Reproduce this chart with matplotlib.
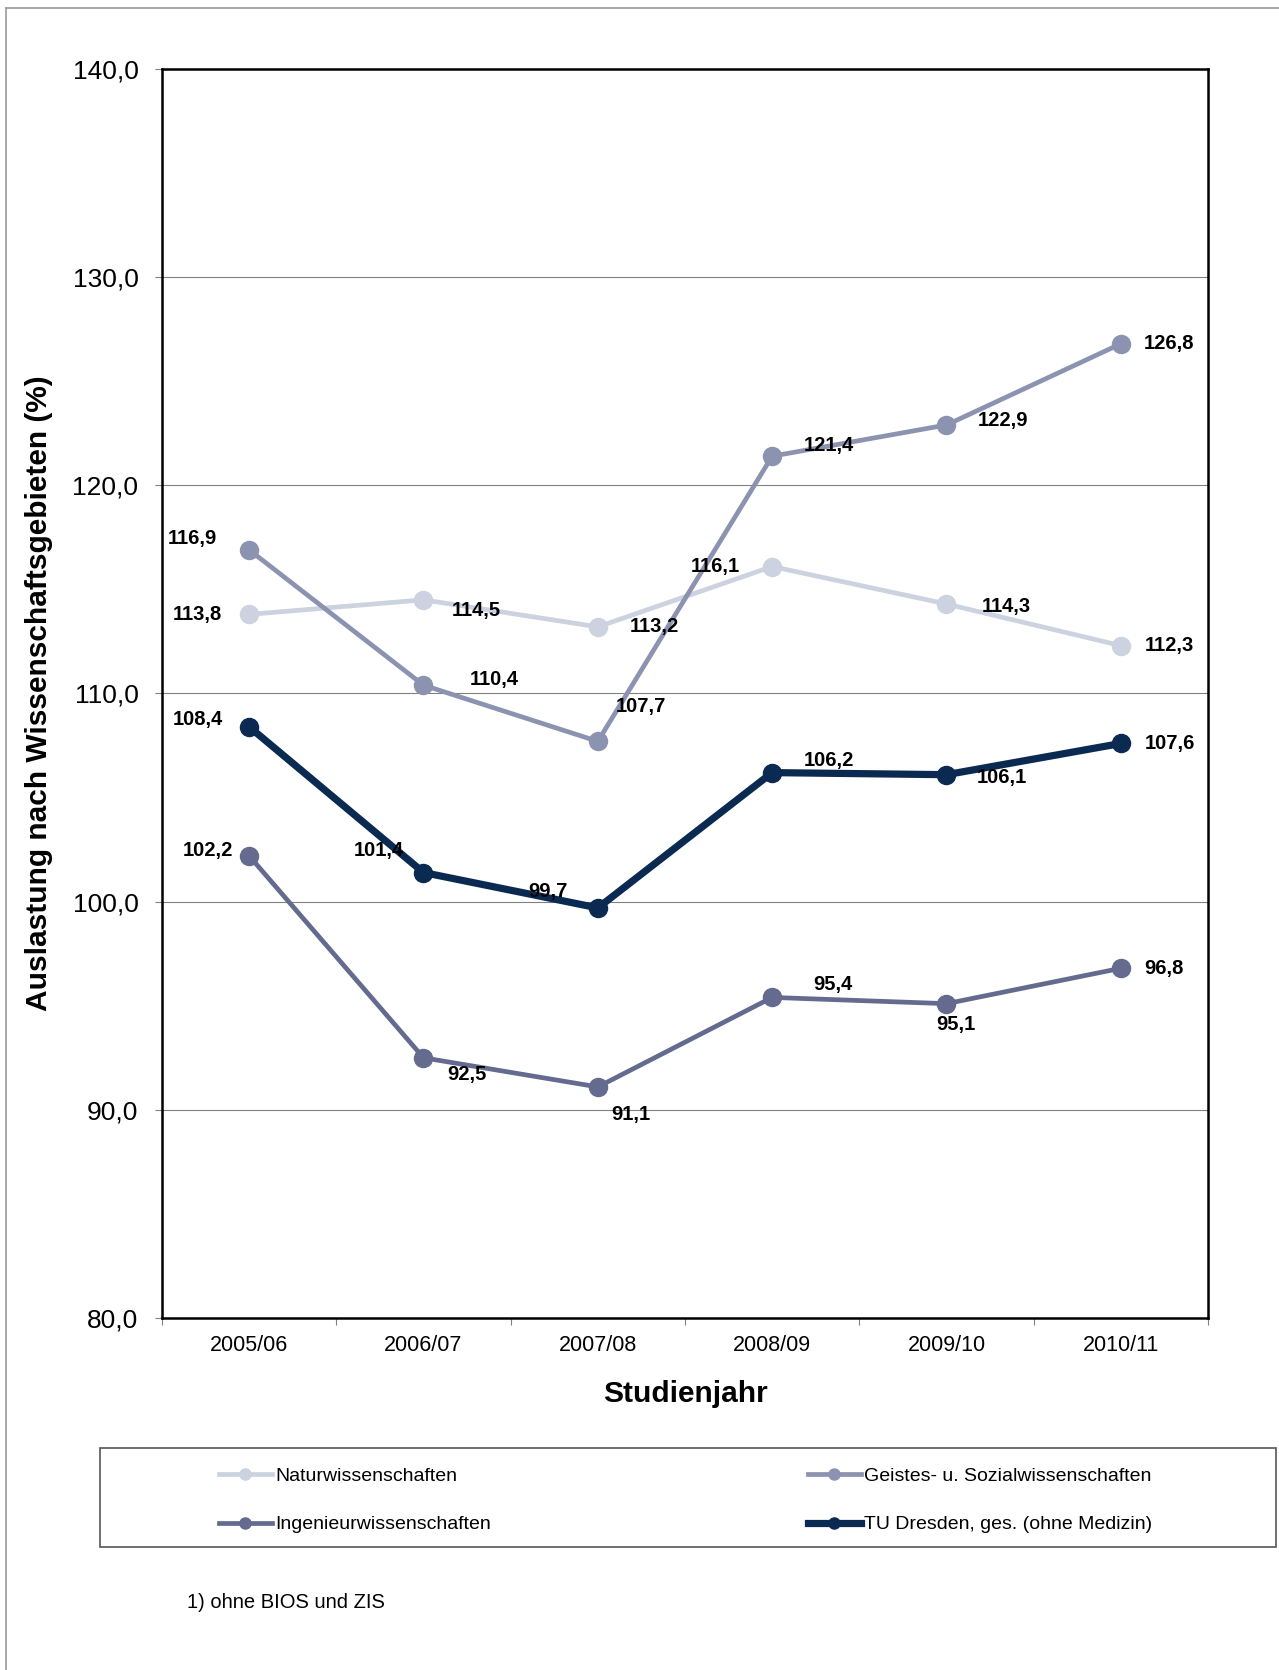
import matplotlib.pyplot as plt
from matplotlib.lines import Line2D
from matplotlib.patches import Rectangle

plt.rcParams['font.family'] = ['Liberation Sans', 'DejaVu Sans']

# Daten
jahre = ['2005/06', '2006/07', '2007/08', '2008/09', '2009/10', '2010/11']
natur = [113.8, 114.5, 113.2, 116.1, 114.3, 112.3]
geistes = [116.9, 110.4, 107.7, 121.4, 122.9, 126.8]
ingenieur = [102.2, 92.5, 91.1, 95.4, 95.1, 96.8]
tu_gesamt = [108.4, 101.4, 99.7, 106.2, 106.1, 107.6]
namen = ['Naturwissenschaften', 'Geistes- u. Sozialwissenschaften',
         'Ingenieurwissenschaften', 'TU Dresden, ges. (ohne Medizin)']

farben = ['#CDD2E0', '#8C93B0', '#646B8F', '#0B2A52']
breiten = [3.4, 3.4, 3.4, 5.2]

# Versatz der Beschriftungen (Punkte)
versatz = [
    [(-37, 0), (38, -8), (41, 0), (-41, 0), (43, -2), (35, 0)],
    [(-41, 8), (51, 4), (31, 25), (41, 8), (41, 3), (35, 0)],
    [(-30, 4), (31, -12), (24, -20), (44, 9), (7, -15), (31, 0)],
    [(-37, 5), (-32, 16), (-36, 12), (41, 9), (40, -2), (35, 0)],
]

W, H = 1279, 1670
fig = plt.figure(figsize=(W / 100, H / 100), dpi=100)
ax = fig.add_axes([162 / W, 1 - 1318 / H, 1046 / W, 1249 / H])

x = list(range(len(jahre)))
reihen = [natur, geistes, ingenieur, tu_gesamt]
for i, werte in enumerate(reihen):
    ax.plot(x, werte, color=farben[i], lw=breiten[i], marker='o', ms=13,
            zorder=3 + i, solid_capstyle='round')
    for j, v in enumerate(werte):
        ax.annotate(f'{v:.1f}'.replace('.', ','), (j, v), xytext=versatz[i][j],
                    textcoords='offset points', ha='center', va='center',
                    fontsize=14.5, fontweight='bold', color='black', zorder=10)

ax.set_xlim(-0.5, 5.5)
ax.set_ylim(80, 140)
ax.set_yticks(range(80, 141, 10))
ax.set_yticklabels([f'{t:.1f}'.replace('.', ',') for t in range(80, 141, 10)], fontsize=19)
ax.tick_params(axis='y', length=5, width=0.8, color='#808080', pad=12)
ax.set_xticks(x)
ax.set_xticklabels(jahre, fontsize=15.5)
ax.set_xticks([k - 0.5 for k in range(7)], minor=True)
ax.tick_params(axis='x', which='major', length=0, pad=12)
ax.tick_params(axis='x', which='minor', length=5, width=0.8, color='#808080')
ax.grid(axis='y', color='#808080', lw=0.8)
ax.set_axisbelow(True)
for s in ax.spines.values():
    s.set_linewidth(1.8)
    s.set_color('black')

ax.set_ylabel('Auslastung nach Wissenschaftsgebieten (%)', fontsize=21.5,
              fontweight='bold', va='center')
ax.yaxis.set_label_coords(-0.118, 0.5)
ax.set_xlabel('Studienjahr', fontsize=21.5, fontweight='bold', va='center')
ax.xaxis.set_label_coords(0.5, -0.061)

# Legende
griffe = [Line2D([], [], color=farben[i], lw=breiten[i], marker='o', ms=8)
          for i in range(4)]
fig.legend([griffe[0], griffe[2], griffe[1], griffe[3]],
           [namen[0], namen[2], namen[1], namen[3]],
           ncol=2, loc='upper left', bbox_to_anchor=(219 / W, 1 - 1467 / H),
           frameon=False, fontsize=14, handlelength=2.7, handletextpad=0.2,
           columnspacing=16.3, labelspacing=1.6, borderpad=0, borderaxespad=0)
fig.add_artist(Rectangle((100 / W, 1 - 1547 / H), 1176 / W, 99 / H,
                         transform=fig.transFigure, fill=False,
                         edgecolor='#555555', lw=1.2))

fig.text(187 / W, 1 - 1603 / H, '1) ohne BIOS und ZIS', fontsize=14.5,
         ha='left', va='center')

# Rahmen
fig.add_artist(Line2D([6 / W, 1], [1 - 8 / H, 1 - 8 / H], transform=fig.transFigure,
                      color='#999999', lw=1.2))
fig.add_artist(Line2D([6 / W, 6 / W], [0, 1 - 8 / H], transform=fig.transFigure,
                      color='#999999', lw=1.2))

fig.savefig('out.png', dpi=100)
